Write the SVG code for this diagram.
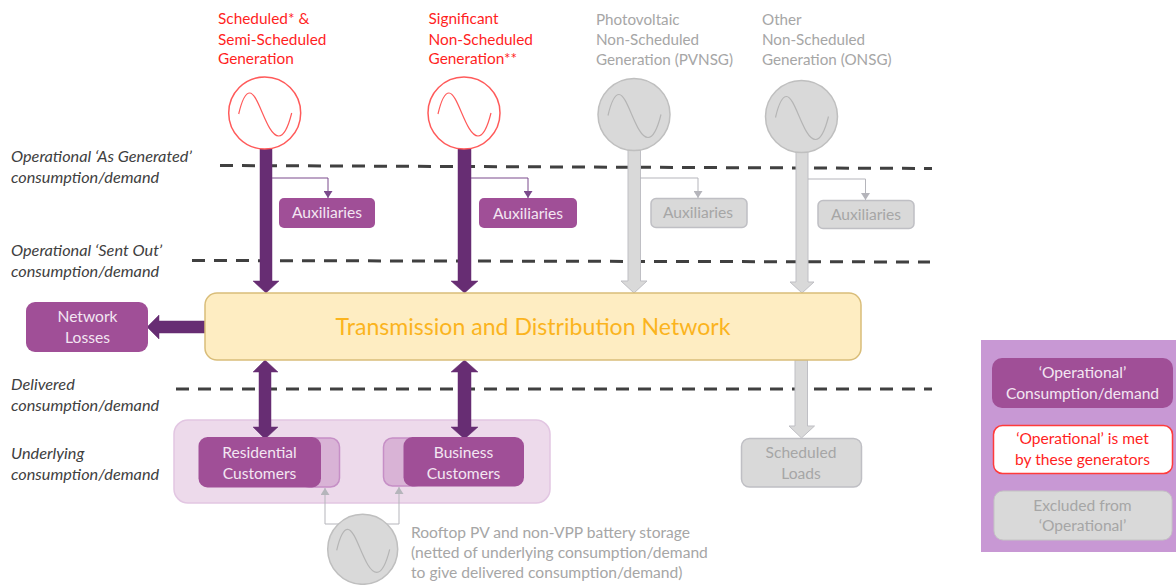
<svg xmlns="http://www.w3.org/2000/svg" xmlns:xlink="http://www.w3.org/1999/xlink" width="1176" height="585" viewBox="0 0 1176 585">
<style>
text{font-family:"Lato","Open Sans","Liberation Sans",sans-serif;font-size:15.6px}
.c{text-anchor:middle}
.w{fill:#f3e6f2}.r{fill:#ff1f1f}.g{fill:#a6a6a6}
.hr{font-size:15.400px}.hg{font-size:15.200px}
.i{fill:#404040;font-style:italic;font-size:16.300px}
.p{fill:#a04f97}
.gb{fill:#d9d9d9;stroke:#bfbfc4;stroke-width:1.5}
.dash{stroke:#404040;stroke-width:3;stroke-dasharray:13 9;fill:none}
.sr{fill:#fff;stroke:#ff5a5a;stroke-width:1.5}
.sg{fill:#d9d9d9;stroke:#bfbfbf;stroke-width:1.5}
.wr{fill:none;stroke:#ff5a5a;stroke-width:1.2}
.wg{fill:none;stroke:#b5b5b5;stroke-width:1.2}
.ap{fill:#672d73;stroke:#672d73;stroke-width:.5}
.ag{fill:#d9d9d9;stroke:#bfbfc4;stroke-width:1}
.tp{fill:none;stroke:#7b4a8c;stroke-width:1}
.tg{fill:none;stroke:#b5b5bb;stroke-width:1}
</style>
<defs>
<path id="sine" d="M-26 1C-23-12-19-20-15-20C-6-20 2 23 14 23C20 23 24 12 27 0"/>
<marker id="hp" markerUnits="userSpaceOnUse" markerWidth="12" markerHeight="9" refX="7" refY="4.5" orient="auto"><path d="M0 0L7 4.5L0 9Z" fill="#7b4a8c"/></marker>
<marker id="hg" markerUnits="userSpaceOnUse" markerWidth="12" markerHeight="9" refX="7" refY="4.5" orient="auto"><path d="M0 0L7 4.5L0 9Z" fill="#b5b5bb"/></marker>
</defs>

<g id="legend-panel"><rect x="981" y="340" width="195" height="212" fill="#c898d4"/></g>

<g id="customer-zone"><rect x="174" y="420" width="376" height="83" rx="14" fill="#eddaeb" stroke="#e2c6e2" stroke-width="1.5"/></g>

<g id="connectors">
<path class="dash" d="M220 165.500L932 168.500"/>
<path class="dash" d="M192 260.500L930 262"/>
<path class="dash" d="M176 389L932 389"/>
<path class="ap" d="M260 149H272V281H279L266 293L253 281H260Z"/>
<path class="ap" d="M458 149H471V281H478L464.500 293L451 281H458Z"/>
<path class="ag" d="M628 150H640.500V281H647L634 293L621 281H628Z"/>
<path class="ag" d="M796 152H808V282H814L802 293L790 282H796Z"/>
<path class="tp" marker-end="url(#hp)" d="M272 178H328V198"/>
<path class="tp" marker-end="url(#hp)" d="M471 178H528V198"/>
<path class="tg" marker-end="url(#hg)" d="M640 178H698V198"/>
<path class="tg" marker-end="url(#hg)" d="M808 179H865.500V200"/>
<path class="ap" d="M205 321V333H159V339L147 327L159 315V321Z"/>
<path class="ap" d="M265 360L278 372H271V427H278L265 439L253 427H259V372H253Z"/>
<path class="ap" d="M464.500 360L478 372H471V427H478L464.500 439L451 427H458V372H451Z"/>
<path class="ag" d="M795 360H807.500V426H814.500L801.500 438L789 426H795Z"/>
<path class="tg" marker-end="url(#hg)" d="M362 524H325V488"/>
<path class="tg" marker-end="url(#hg)" d="M362 524H399V487"/>
</g>

<g id="gen-scheduled">
<circle cx="264.700" cy="113" r="36" class="sr"/><use xlink:href="#sine" href="#sine" x="264.700" y="113" class="wr"/>
<text class="r hr" x="218" y="24">Scheduled* &amp;</text><text class="r hr" x="218" y="45">Semi-Scheduled</text><text class="r hr" x="218" y="64">Generation</text>
</g>
<g id="gen-significant">
<circle cx="464" cy="113" r="36" class="sr"/><use xlink:href="#sine" href="#sine" x="464" y="113" class="wr"/>
<text class="r hr" x="428.500" y="24">Significant</text><text class="r hr" x="428.500" y="45">Non-Scheduled</text><text class="r hr" x="428.500" y="64">Generation**</text>
</g>
<g id="gen-pvnsg">
<circle cx="634" cy="114.500" r="36" class="sg"/><use xlink:href="#sine" href="#sine" x="634" y="114.500" class="wg"/>
<text class="g hg" x="596" y="25">Photovoltaic</text><text class="g hg" x="596" y="45">Non-Scheduled</text><text class="g hg" x="596" y="65">Generation (PVNSG)</text>
</g>
<g id="gen-onsg">
<circle cx="801.500" cy="116.500" r="36" class="sg"/><use xlink:href="#sine" href="#sine" x="801.500" y="116.500" class="wg"/>
<text class="g hg" x="762" y="25">Other</text><text class="g hg" x="762" y="45">Non-Scheduled</text><text class="g hg" x="762" y="65">Generation (ONSG)</text>
</g>

<g id="aux-1"><rect x="279" y="198" width="96" height="30" rx="5" class="p"/><text class="w c" x="327" y="218">Auxiliaries</text></g>
<g id="aux-2"><rect x="479" y="198" width="98" height="30" rx="5" class="p"/><text class="w c" x="528" y="219">Auxiliaries</text></g>
<g id="aux-3"><rect x="651" y="198.500" width="96" height="29" rx="5" class="gb"/><text class="g c" x="698" y="218">Auxiliaries</text></g>
<g id="aux-4"><rect x="818" y="200.500" width="96" height="28" rx="5" class="gb"/><text class="g c" x="866" y="220">Auxiliaries</text></g>

<g id="network"><rect x="205" y="293" width="656" height="67" rx="12" fill="#feedc2" stroke="#d9bd79" stroke-width="1.500"/><text class="c" x="533" y="335" fill="#fbb41e" style="font-size:23.100px">Transmission and Distribution Network</text></g>

<g id="network-losses"><rect x="26" y="302" width="122" height="50" rx="9" class="p"/><text class="w c" x="87.500" y="322">Network</text><text class="w c" x="87.500" y="343">Losses</text></g>

<g id="residential">
<rect x="300" y="438" width="39.500" height="49" rx="9" fill="#d9b3d6" stroke="#c68fc6" stroke-width="1.500"/>
<rect x="198.500" y="437" width="122.500" height="50.500" rx="9" class="p"/>
<text class="w c" x="259.500" y="458">Residential</text><text class="w c" x="259.500" y="479">Customers</text>
</g>
<g id="business">
<rect x="383.500" y="438" width="40" height="48" rx="9" fill="#d9b3d6" stroke="#c68fc6" stroke-width="1.500"/>
<rect x="403.500" y="437" width="120.500" height="49.500" rx="9" class="p"/>
<text class="w c" x="463.500" y="458">Business</text><text class="w c" x="463.500" y="479">Customers</text>
</g>

<g id="rooftop">
<circle cx="362.700" cy="549.300" r="35" class="sg"/><use xlink:href="#sine" href="#sine" x="362.700" y="549.300" class="wg"/>
<text class="g" x="411" y="538">Rooftop PV and non-VPP battery storage</text><text class="g" x="411" y="558">(netted of underlying consumption/demand</text><text class="g" x="411" y="578">to give delivered consumption/demand)</text>
</g>

<g id="scheduled-loads"><rect x="741.500" y="438.500" width="120" height="48.500" rx="8" class="gb"/><text class="g c" x="801" y="458">Scheduled</text><text class="g c" x="801" y="479">Loads</text></g>

<g id="label-as-generated"><text class="i" x="11" y="162">Operational ‘As Generated’</text><text class="i" x="11" y="183">consumption/demand</text></g>
<g id="label-sent-out"><text class="i" x="11" y="256">Operational ‘Sent Out’</text><text class="i" x="11" y="277">consumption/demand</text></g>
<g id="label-delivered"><text class="i" x="11" y="390">Delivered</text><text class="i" x="11" y="411">consumption/demand</text></g>
<g id="label-underlying"><text class="i" x="11" y="459">Underlying</text><text class="i" x="11" y="480">consumption/demand</text></g>

<g id="legend-operational"><rect x="992" y="358" width="181" height="50" rx="10" class="p"/><text class="w c" x="1082.500" y="378">‘Operational’</text><text class="w c" x="1082.500" y="399">Consumption/demand</text></g>
<g id="legend-met"><rect x="993.500" y="425.500" width="179" height="48" rx="9" fill="#fff" stroke="#ff3b3b" stroke-width="1.500"/><text class="r c" x="1082.500" y="444">‘Operational’ is met</text><text class="r c" x="1082.500" y="465">by these generators</text></g>
<g id="legend-excluded"><rect x="994" y="491" width="178" height="49" rx="9" fill="#d9d9d9" stroke="#c4c4c4"/><text class="g c" x="1082.500" y="511">Excluded from</text><text class="g c" x="1082.500" y="531">‘Operational’</text></g>
</svg>
